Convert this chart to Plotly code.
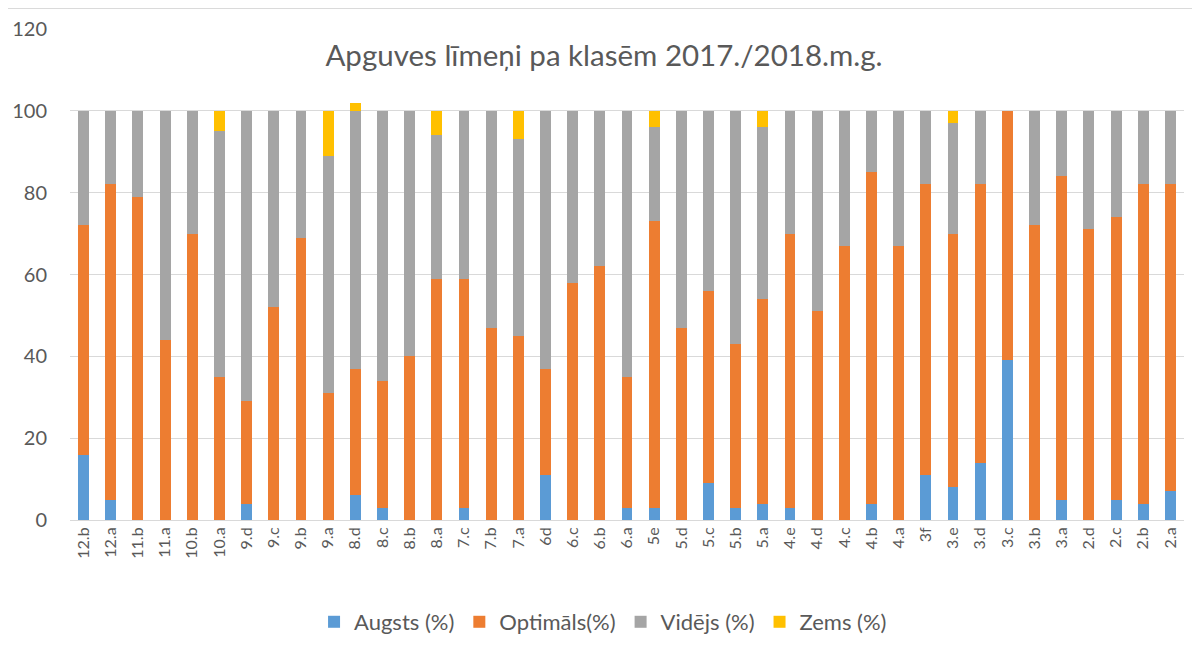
import plotly.graph_objects as go

classes = ["12.b","12.a","11.b","11.a","10.b","10.a","9.d","9.c","9.b","9.a",
           "8.d","8.c","8.b","8.a","7.c","7.b","7.a","6d","6.c","6.b",
           "6.a","5e","5.d","5.c","5.b","5.a","4.e","4.d","4.c","4.b",
           "4.a","3f","3.e","3.d","3.c","3.b","3.a","2.d","2.c","2.b","2.a"]

augsts   = [16,5,0,0,0,0,4,0,0,0, 6,3,0,0,3,0,0,11,0,0, 3,3,0,9,3,4,3,0,0,4, 0,11,8,14,39,0,5,0,5,4,7]
optimals = [56,77,79,44,70,35,25,52,69,31, 31,31,40,59,56,47,45,26,58,62, 32,70,47,47,40,50,67,51,67,81, 67,71,62,68,61,72,79,71,69,78,75]
videjs   = [28,18,21,56,30,60,71,48,31,58, 63,66,60,35,41,53,48,63,42,38, 65,23,53,44,57,42,30,49,33,15, 33,18,27,18,0,28,16,29,26,18,18]
zems     = [0,0,0,0,0,5,0,0,0,11, 2,0,0,6,0,0,7,0,0,0, 0,4,0,0,0,4,0,0,0,0, 0,0,3,0,0,0,0,0,0,0,0]

series = [
    ("Augsts (%)", augsts, "#5B9BD5"),
    ("Optimāls(%)", optimals, "#ED7D31"),
    ("Vidējs (%)", videjs, "#A5A5A5"),
    ("Zems (%)", zems, "#FFC000"),
]

fig = go.Figure()
for name, vals, col in series:
    fig.add_trace(go.Bar(x=classes, y=vals, name=name,
                         marker=dict(color=col, line=dict(width=0))))

fig.update_layout(
    barmode="stack",
    bargap=0.6,
    width=1192, height=651,
    paper_bgcolor="white", plot_bgcolor="white",
    margin=dict(l=62, r=16, t=21, b=139),
    font=dict(family="Lato, Open Sans, sans-serif", color="#595959"),
    title=dict(text="Apguves līmeņi pa klasēm 2017./2018.m.g.",
               x=0.5, xanchor="center", y=0.926, yanchor="middle",
               font=dict(size=29.5, color="#595959")),
    yaxis=dict(range=[0, 120], dtick=20, showgrid=True, gridcolor="#D9D9D9",
               gridwidth=1, zeroline=False, showline=False,
               tickfont=dict(size=20, color="#595959"), ticks="",
               ticklabelstandoff=22, automargin=False),
    xaxis=dict(showline=True, linecolor="#D9D9D9", linewidth=1,
               tickangle=-90, tickfont=dict(size=16, color="#595959"),
               ticks="", showgrid=False, automargin=False),
    legend=dict(orientation="h", x=0.4785, xanchor="center", y=-0.2077,
                yanchor="middle", font=dict(size=22, color="#595959"),
                traceorder="normal", itemwidth=30),
    shapes=[dict(type="rect", xref="paper", yref="paper",
                 x0=-0.0561, x1=1.0099, y0=-0.285, y1=1.0418,
                 line=dict(color="#D9D9D9", width=1))],
)

fig.write_html("out.html")
